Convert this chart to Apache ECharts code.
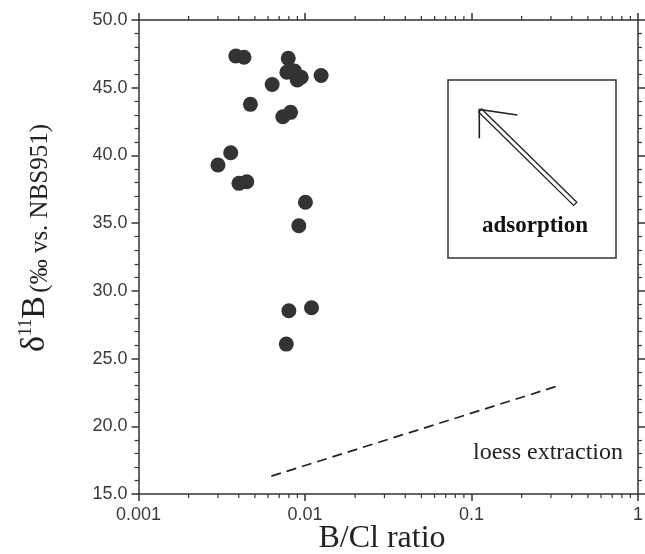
<!DOCTYPE html>
<html><head><meta charset="utf-8">
<script src="https://cdn.jsdelivr.net/npm/echarts@6/dist/echarts.min.js"></script>
<style>html,body{margin:0;padding:0;background:#fff}#c{width:645px;height:554px}</style>
</head><body><div id="c"></div>
<script>
// B/Cl ratio (x, log scale) and delta 11B (y) of the samples
const bclRatio = [0.00384,0.0043,0.00793,0.00778,0.00865,0.00898,0.00949,0.0125,0.00635,0.0047,0.00736,0.00819,0.00358,0.0030,0.00401,0.00447,0.01006,0.00918,0.0080,0.01094,0.00772];
const delta11B = [47.34,47.25,47.17,46.14,46.23,45.57,45.77,45.90,45.24,43.77,42.86,43.18,40.20,39.29,37.94,38.06,36.54,34.81,28.53,28.75,26.07];
// loess extraction trend (dashed)
const loessX = [0.00628, 0.342];
const loessY = [16.32, 23.04];
// axes
const xTickLabels = ['0.001','0.01','0.1','1'];
const xMinorTicks = [0.002,0.003,0.004,0.005,0.006,0.007,0.008,0.009,0.02,0.03,0.04,0.05,0.06,0.07,0.08,0.09,0.2,0.3,0.4,0.5,0.6,0.7,0.8,0.9];
const yMin = 15, yMax = 50, yStep = 5;

const AX = '#333';
const chart = echarts.init(document.getElementById('c'), null, {renderer:'canvas'});
const xAxisBase = {
  type:'log', logBase:10, min:0.001, max:1,
  axisLine:{show:true, lineStyle:{color:AX, width:1.5}},
  axisTick:{show:true, length:7, lineStyle:{color:AX, width:1.5}},
  minorTick:{show:false}, splitLine:{show:false}
};
const yAxisBase = {
  type:'value', min:yMin, max:yMax, interval:yStep,
  axisLine:{show:true, lineStyle:{color:AX, width:1.5}},
  axisTick:{show:true, length:7, lineStyle:{color:AX, width:1.5}},
  minorTick:{show:true, splitNumber:5, length:4, lineStyle:{color:AX, width:1.2}},
  splitLine:{show:false}
};
chart.setOption({
  animation:false,
  backgroundColor:'#fff',
  grid:{left:138.5, right:7, top:20, bottom:60, containLabel:false, outerBoundsMode:'none'},
  xAxis:[
    Object.assign({}, xAxisBase, {position:'bottom',
      axisLabel:{show:true, margin:12, color:'#3a3a3a', fontSize:18, fontFamily:'Liberation Sans, Arial, sans-serif',
        formatter:v=>xTickLabels[Math.round(Math.log10(v))+3]}}),
    Object.assign({}, xAxisBase, {position:'top', axisLabel:{show:false}})
  ],
  yAxis:[
    Object.assign({}, yAxisBase, {position:'left',
      axisLabel:{show:true, margin:11, color:'#3a3a3a', fontSize:18, fontFamily:'Liberation Sans, Arial, sans-serif',
        formatter:v=>v.toFixed(1)}}),
    Object.assign({}, yAxisBase, {position:'right', axisLabel:{show:false}})
  ],
  series:[
    {
      type:'line', xAxisIndex:0, yAxisIndex:0, symbol:'none', silent:true,
      data: loessX.map((x,i)=>[x, loessY[i]]),
      lineStyle:{color:'#222', width:1.7, type:[10,6]}, z:2
    },
    {
      type:'scatter', xAxisIndex:0, yAxisIndex:0, symbol:'circle', symbolSize:15,
      data: bclRatio.map((x,i)=>[x, delta11B[i]]),
      itemStyle:{color:'#333', opacity:1}, z:3
    },
    {
      type:'custom', xAxisIndex:0, yAxisIndex:0, clip:false, silent:true,
      data: xMinorTicks.map(v=>[v, yMin]),
      encode:{x:0, y:1},
      renderItem:function(params, api){
        const v = api.value(0);
        const b = api.coord([v, yMin]);
        const t = api.coord([v, yMax]);
        return {type:'group', children:[
          {type:'line', shape:{x1:b[0], y1:b[1], x2:b[0], y2:b[1]+4}, style:{stroke:AX, lineWidth:1.2}},
          {type:'line', shape:{x1:t[0], y1:t[1], x2:t[0], y2:t[1]-4}, style:{stroke:AX, lineWidth:1.2}}
        ]};
      }
    }
  ],
  graphic:[
    {type:'text', x:382, y:539, style:{text:'B/Cl ratio', fill:'#222', font:'32px "Liberation Serif", "Times New Roman", serif', align:'center', verticalAlign:'middle'}},
    {type:'text', x:35, y:238, rotation:Math.PI/2,
      style:{text:'{d|δ}{s|11}{b|B} {p|(‰ vs. NBS951)}', fill:'#222', align:'center', verticalAlign:'middle',
        rich:{
          d:{fontSize:34, fontFamily:'Liberation Serif', fill:'#222', lineHeight:36},
          b:{fontSize:34, fontFamily:'Liberation Serif', fill:'#222', lineHeight:36},
          s:{fontSize:18, fontFamily:'Liberation Serif', fill:'#222', verticalAlign:'top', lineHeight:20},
          p:{fontSize:25, fontFamily:'Liberation Serif', fill:'#222', lineHeight:36, verticalAlign:'bottom'}
        }}},
    {type:'rect', shape:{x:448, y:80, width:168, height:178}, style:{fill:'none', stroke:'#333', lineWidth:1.5}},
    {type:'polygon', shape:{points:[[576.8,202.2],[481.6,109.0],[478.6,112.0],[573.6,205.4]]}, style:{fill:'#fff', stroke:'#222', lineWidth:1.3}},
    {type:'polyline', shape:{points:[[479.3,138.3],[479.3,109.5],[517.3,115]]}, style:{fill:'none', stroke:'#222', lineWidth:1.6}},
    {type:'text', x:535, y:226, style:{text:'adsorption', fill:'#111', font:'bold 23px "Liberation Serif", "Times New Roman", serif', align:'center', verticalAlign:'middle'}},
    {type:'text', x:623, y:453, style:{text:'loess extraction', fill:'#222', font:'24px "Liberation Serif", "Times New Roman", serif', align:'right', verticalAlign:'middle'}}
  ]
});
</script>
</body></html>
